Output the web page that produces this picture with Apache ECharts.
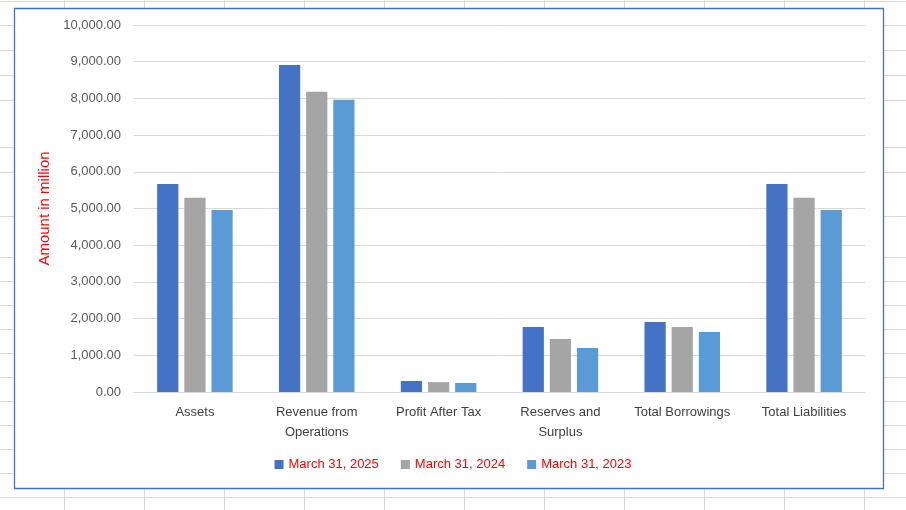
<!DOCTYPE html>
<html>
<head>
<meta charset="utf-8">
<script src="https://cdn.jsdelivr.net/npm/echarts@6/dist/echarts.min.js"></script>
<style>
html,body{margin:0;padding:0;background:#fff;}
#c{width:906px;height:510px;}
</style>
</head>
<body>
<div id="c"></div>
<script>
const categories = ['Assets', 'Revenue from\nOperations', 'Profit After Tax', 'Reserves and\nSurplus', 'Total Borrowings', 'Total Liabilities'];
const seriesNames = ['March 31, 2025', 'March 31, 2024', 'March 31, 2023'];
const values2025 = [5670, 8910, 300, 1770, 1910, 5670];
const values2024 = [5290, 8180, 270, 1445, 1770, 5290];
const values2023 = [4960, 7960, 245, 1200, 1635, 4960];
const yTicks = { min: 0, max: 10000, interval: 1000 };
const colors = ['#4472C4', '#A5A5A5', '#5B9BD5'];

// spreadsheet background cell lines (decoration)
const sheetRows = [1, 25, 50, 75, 100, 147, 172, 216, 257, 281, 305, 329, 353, 377, 401, 425, 449, 473, 497];
const sheetCols = [64, 144, 224, 304, 384, 464, 544, 624, 704, 784, 864];

const bg = [];
sheetRows.forEach(y => bg.push({type:'line', silent:true, z:-10, shape:{x1:0,y1:y+0.5,x2:906,y2:y+0.5}, style:{stroke:'#D9D9D9', lineWidth:1}}));
sheetCols.forEach(x => bg.push({type:'line', silent:true, z:-10, shape:{x1:x+0.5,y1:0,x2:x+0.5,y2:510}, style:{stroke:'#D9D9D9', lineWidth:1}}));
bg.push({type:'rect', silent:true, z:-5, shape:{x:14.5,y:8.5,width:869,height:480}, style:{fill:'#fff', stroke:'#4472C4', lineWidth:1.3}});

const chart = echarts.init(document.getElementById('c'), null, {renderer:'canvas'});
const font = 'Liberation Sans, Arial, sans-serif';
const data = [values2025, values2024, values2023];
chart.setOption({
  animation: false,
  color: colors,
  graphic: bg,
  grid: { left: 134, right: 41, top: 25, bottom: 118, containLabel: false },
  legend: {
    bottom: 34, left: 'center',
    itemWidth: 9, itemHeight: 9, itemGap: 22,
    icon: 'rect',
    textStyle: { color: '#FF0000', fontSize: 13, fontFamily: font },
    data: seriesNames
  },
  xAxis: {
    type: 'category',
    data: categories,
    axisLine: { show: true, lineStyle: { color: '#D9D9D9', width: 1 } },
    axisTick: { show: false },
    axisLabel: { color: '#404040', fontSize: 13, fontFamily: font, margin: 10, lineHeight: 20, interval: 0 }
  },
  yAxis: {
    type: 'value',
    min: yTicks.min, max: yTicks.max, interval: yTicks.interval,
    name: 'Amount in million',
    nameLocation: 'middle',
    nameGap: 77,
    nameTextStyle: { color: '#FF0000', fontSize: 15, fontFamily: font },
    axisLine: { show: false },
    axisTick: { show: false },
    splitLine: { lineStyle: { color: '#D9D9D9', width: 1 } },
    axisLabel: {
      color: '#595959', fontSize: 13, fontFamily: font, margin: 13,
      formatter: v => v.toLocaleString('en-US', {minimumFractionDigits: 2, maximumFractionDigits: 2})
    }
  },
  series: seriesNames.map((n, i) => ({
    name: n, type: 'bar', data: data[i],
    barGap: '28%', barCategoryGap: '38%'
  }))
});
</script>
</body>
</html>
